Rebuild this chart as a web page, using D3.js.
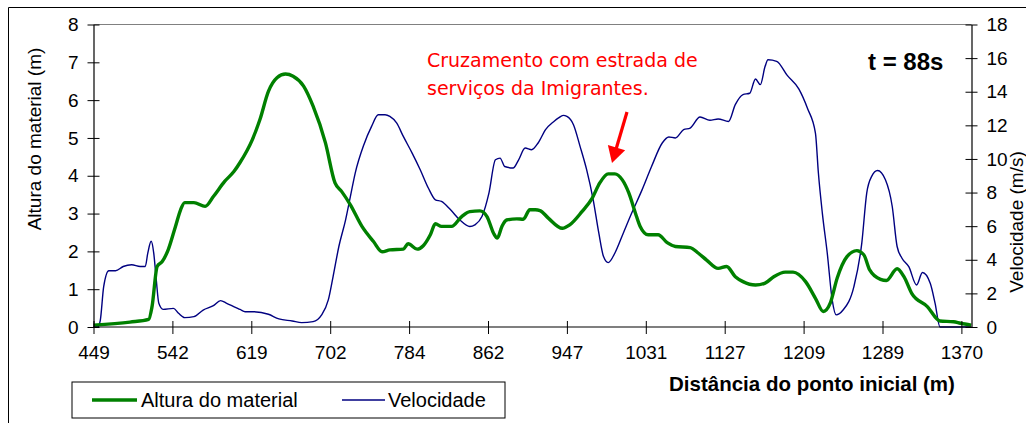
<!DOCTYPE html>
<html>
<head>
<meta charset="utf-8">
<script src="https://cdn.jsdelivr.net/npm/d3@7"></script>
<style>
  html, body { margin: 0; padding: 0; background: #fff; }
  svg { display: block; font-family: "Liberation Sans", Arial, sans-serif; }
</style>
</head>
<body>
<svg id="chart" width="1026" height="423"></svg>
<script>
// Distance labels shown on the category axis (m)
const distTicks = [449, 542, 619, 702, 784, 862, 947, 1031, 1127, 1209, 1289, 1370];
const alturaTicks = [0, 1, 2, 3, 4, 5, 6, 7, 8];
const velocTicks = [0, 2, 4, 6, 8, 10, 12, 14, 16, 18];

// Material height (m) along the path
const alturaDist = [449,492,514,518,524,530,537,545,550,554,563,574,582,593,602,608,620,628,637,646,655,663,674,684,697,707,714,723,735,747,756,764,778,783,792,798,805,810,816,826,836,844,854,861,868,872,877,882,893,900,907,913,918,927,942,950,963,974,982,991,998,1006,1013,1020,1025,1034,1046,1057,1067,1085,1095,1105,1119,1129,1138,1146,1159,1169,1178,1190,1198,1211,1221,1229,1236,1243,1253,1263,1270,1276,1287,1293,1304,1311,1319,1335,1348,1362,1369,1380];
const alturaVal = [0.05,0.13,0.2,0.54,1.6,1.73,2.04,2.66,3.1,3.29,3.29,3.19,3.45,3.85,4.11,4.35,4.95,5.48,6.23,6.59,6.69,6.63,6.37,5.84,4.87,3.81,3.58,3.23,2.66,2.26,1.99,2.04,2.06,2.2,2.06,2.15,2.44,2.73,2.66,2.66,2.92,3.05,3.07,2.92,2.48,2.35,2.66,2.83,2.86,2.85,3.1,3.1,3.08,2.88,2.61,2.7,3.05,3.41,3.81,4.05,4.05,3.89,3.54,3.01,2.66,2.44,2.44,2.23,2.13,2.1,1.95,1.77,1.55,1.6,1.33,1.2,1.11,1.16,1.33,1.45,1.45,1.2,0.76,0.41,0.63,1.29,1.86,2.02,1.91,1.51,1.26,1.23,1.54,1.33,0.89,0.54,0.16,0.14,0.1,0.05];

// Flow velocity (m/s) along the path
const velocDist = [449,454,457,461,467,475,484,494,504,510,513,517,520,523,526,531,543,548,554,563,572,582,589,595,608,613,621,637,648,662,672,684,693,700,705,711,718,723,728,737,745,752,759,764,771,778,787,795,803,810,816,825,834,844,849,856,863,870,875,880,889,895,902,909,916,924,933,938,943,947,954,961,968,975,981,986,991,998,1007,1016,1027,1038,1051,1059,1067,1077,1085,1097,1109,1119,1131,1138,1146,1153,1159,1164,1169,1172,1181,1192,1204,1213,1221,1224,1228,1233,1238,1242,1249,1260,1268,1273,1278,1284,1292,1299,1304,1309,1316,1324,1330,1338,1343,1348,1380];
const velocVal = [0,0,0.4,2.4,3.35,3.35,3.6,3.7,3.6,3.6,4.4,5.1,4.4,2.8,1.41,1.05,1.11,0.82,0.56,0.62,1.01,1.27,1.57,1.41,1.05,0.91,0.91,0.76,0.48,0.36,0.26,0.32,0.72,1.61,3.0,4.79,6.38,7.77,9.16,10.85,11.94,12.63,12.63,12.53,12.14,11.34,10.35,9.36,8.27,7.57,7.47,6.97,6.38,5.98,6.08,6.57,7.97,9.95,10.05,9.55,9.46,9.95,10.65,10.55,10.95,11.74,12.23,12.44,12.59,12.53,12.04,10.75,9.36,7.57,5.58,4.19,3.83,4.39,5.58,6.78,8.16,9.55,10.95,11.31,11.25,11.74,11.84,12.5,12.3,12.38,12.23,13.23,13.83,13.91,14.76,14.42,15.51,15.9,15.81,14.97,14.17,13.0,11.54,9.16,6.78,4.39,1.61,0.72,1.01,2.4,4.99,7.97,8.96,9.31,8.76,7.17,4.79,4.09,3.59,2.5,3.24,2.6,1.41,0,0];

const svg = d3.select("#chart");
const W = 1026, H = 423;
const plot = { left: 93.5, right: 971.5, top: 24.5, bottom: 327 };
const step = 78.9; // spacing between labelled categories

// Category axis: labels are evenly spaced, so the distance scale is piecewise linear
const x = d3.scaleLinear()
  .domain(distTicks)
  .range(distTicks.map((d, i) => plot.left + i * step));
const yL = d3.scaleLinear().domain([0, 8]).range([plot.bottom, plot.top]);
const yR = d3.scaleLinear().domain([0, 18]).range([plot.bottom, plot.top]);

svg.append("rect").attr("width", W).attr("height", H).attr("fill", "#fff");

// chart frame (runs past the right and bottom edges)
svg.append("path")
  .attr("d", `M8.5,${H + 2} L8.5,7.5 L${W + 2},7.5`)
  .attr("fill", "none").attr("stroke", "#000").attr("stroke-width", 1);

// plot area top edge
svg.append("line")
  .attr("x1", plot.left).attr("x2", plot.right)
  .attr("y1", plot.top).attr("y2", plot.top)
  .attr("stroke", "#808080").attr("stroke-width", 1);

// series
const alturaData = alturaDist.map((d, i) => ({ d, v: alturaVal[i] }));
const velocData = velocDist.map((d, i) => ({ d, v: velocVal[i] }));

svg.append("path")
  .datum(velocData)
  .attr("fill", "none").attr("stroke", "#000080").attr("stroke-width", 1.4)
  .attr("stroke-linejoin", "round")
  .attr("d", d3.line().x(p => x(p.d)).y(p => yR(p.v)).curve(d3.curveMonotoneX));

svg.append("path")
  .datum(alturaData)
  .attr("fill", "none").attr("stroke", "#008000").attr("stroke-width", 3.4)
  .attr("stroke-linejoin", "round")
  .attr("d", d3.line().x(p => x(p.d)).y(p => yL(p.v)).curve(d3.curveMonotoneX));

// axes
const fs = 19;
const axL = svg.append("g").attr("transform", `translate(${plot.left},0)`)
  .call(d3.axisLeft(yL).tickValues(alturaTicks).tickSizeInner(6).tickSizeOuter(0).tickPadding(9));
const axR = svg.append("g").attr("transform", `translate(${plot.right},0)`)
  .call(d3.axisRight(yR).tickValues(velocTicks).tickSizeInner(6).tickSizeOuter(0).tickPadding(9));
const axB = svg.append("g").attr("transform", `translate(0,${plot.bottom})`)
  .call(d3.axisBottom(x).tickValues(distTicks).tickFormat(d3.format("d")).tickSizeInner(7).tickSizeOuter(0).tickPadding(12));

[axL, axR, axB].forEach(g => {
  g.attr("font-family", null).attr("font-size", null);
  g.select(".domain").attr("stroke", "#000").attr("stroke-width", 1.2);
  g.selectAll(".tick line").attr("stroke", "#000").attr("stroke-width", 1);
  g.selectAll(".tick text").style("font-size", fs + "px").attr("fill", "#000");
});
// ticks cross the axis lines
axL.selectAll(".tick line").attr("x1", 6);
axR.selectAll(".tick line").attr("x1", -6);
axB.selectAll(".tick line").attr("y1", -6);
axB.select(".domain").attr("d", `M${plot.left},0H${plot.right}`);

// axis titles
svg.append("text")
  .attr("transform", "translate(41,139) rotate(-90)")
  .attr("text-anchor", "middle").style("font-size", fs + "px")
  .text("Altura do material (m)");
svg.append("text")
  .attr("transform", "translate(1023,222) rotate(-90)")
  .attr("text-anchor", "middle").style("font-size", fs + "px")
  .text("Velocidade (m/s)");
svg.append("text")
  .attr("x", 812).attr("y", 391)
  .attr("text-anchor", "middle").style("font-size", "20.5px").style("font-weight", "bold")
  .text("Distância do ponto inicial (m)");

// time stamp
svg.append("text")
  .attr("x", 868).attr("y", 70)
  .style("font-size", "24px").style("font-weight", "bold")
  .text("t = 88s");

// annotation
const note = svg.append("text")
  .style("font-family", "'DejaVu Sans', Verdana, sans-serif")
  .style("font-size", "19px").style("fill", "#ff0000");
note.append("tspan").attr("x", 427).attr("y", 67).text("Cruzamento com estrada de");
note.append("tspan").attr("x", 427).attr("y", 95).text("serviços da Imigrantes.");

// arrow towards the crossing
const a0 = [627, 112], a1 = [612, 163];
const dx = a1[0] - a0[0], dy = a1[1] - a0[1];
const len = Math.hypot(dx, dy), ux = dx / len, uy = dy / len;
const headL = 16, headW = 9;
const bx = a1[0] - ux * headL, by = a1[1] - uy * headL;
svg.append("line")
  .attr("x1", a0[0]).attr("y1", a0[1]).attr("x2", bx + ux * 2).attr("y2", by + uy * 2)
  .attr("stroke", "#ff0000").attr("stroke-width", 3.2);
svg.append("path")
  .attr("d", `M${a1[0]},${a1[1]} L${bx - uy * headW},${by + ux * headW} L${bx + uy * headW},${by - ux * headW} Z`)
  .attr("fill", "#ff0000");

// legend
const lg = svg.append("g");
lg.append("rect").attr("x", 72).attr("y", 382).attr("width", 433).attr("height", 36)
  .attr("fill", "#fff").attr("stroke", "#000").attr("stroke-width", 1);
lg.append("line").attr("x1", 92).attr("x2", 137).attr("y1", 400).attr("y2", 400)
  .attr("stroke", "#008000").attr("stroke-width", 3.4);
lg.append("text").attr("x", 141).attr("y", 407).style("font-size", "20px").text("Altura do material");
lg.append("line").attr("x1", 342).attr("x2", 385).attr("y1", 400).attr("y2", 400)
  .attr("stroke", "#000080").attr("stroke-width", 1.4);
lg.append("text").attr("x", 388).attr("y", 407).style("font-size", "20px").text("Velocidade");
</script>
</body>
</html>
